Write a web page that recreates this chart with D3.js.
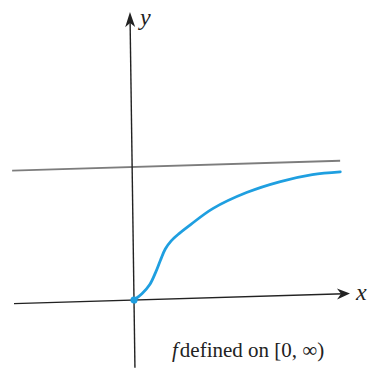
<!DOCTYPE html>
<html lang="en">
<head>
  <meta charset="utf-8">
  <title>f defined on [0, ∞)</title>
  <script src="https://d3js.org/d3.v7.min.js"></script>
  <style>
    html, body { margin: 0; padding: 0; background: #fff; }
    svg { display: block; }
    text { font-family: serif; fill: #222; }
  </style>
</head>
<body>
  <svg id="chart" width="369" height="371"></svg>

  <script>
    // curve values (asymptote at y = 1)
    const curveX = [0, 0.2, 0.4, 0.55, 0.675, 0.8, 0.95, 1.15, 1.45, 2.0, 2.85, 3.7, 4.5, 5.2];
    const curveY = [0, 0.045, 0.113, 0.203, 0.293, 0.376, 0.436, 0.489, 0.556, 0.669, 0.782, 0.857, 0.902, 0.917];
    const asymptoteY = 1;
    const xExtent = [-3, 5.4];
    const yExtent = [-0.51, 2.165];
    const asymptoteExtent = [-3, 5.2];
    const caption = "defined on [0, \u221E)";

    const svg = d3.select("#chart");
    const blue = "#1f9fe0";

    // the scanned figure is slightly skewed, so the plot sits in a tilted group
    const g = svg.append("g")
      .attr("transform", "matrix(1,-0.03,0.014,1,134,300)");

    const x = d3.scaleLinear().domain([0, 1]).range([0, 40]);
    const y = d3.scaleLinear().domain([0, 1]).range([0, -133]);

    // asymptote
    g.append("line")
      .attr("x1", x(asymptoteExtent[0])).attr("x2", x(asymptoteExtent[1]))
      .attr("y1", y(asymptoteY)).attr("y2", y(asymptoteY))
      .attr("stroke", "#7d7d7d")
      .attr("stroke-width", 1.8);

    // x axis
    g.append("line")
      .attr("x1", x(xExtent[0])).attr("x2", x(xExtent[1]) - 6)
      .attr("y1", 0).attr("y2", 0)
      .attr("stroke", "#222")
      .attr("stroke-width", 1.4);

    const xt = x(xExtent[1]);
    g.append("path")
      .attr("d", `M${xt},0 L${xt - 13},-5.5 L${xt - 9},0 L${xt - 13},5.5 Z`)
      .attr("fill", "#222");

    // y axis
    g.append("line")
      .attr("x1", 0).attr("x2", 0)
      .attr("y1", y(yExtent[0])).attr("y2", y(yExtent[1]) + 6)
      .attr("stroke", "#222")
      .attr("stroke-width", 1.4);

    const yt = y(yExtent[1]);
    g.append("path")
      .attr("d", `M0,${yt} L-5,${yt + 15} L0,${yt + 11} L5,${yt + 15} Z`)
      .attr("fill", "#222");

    // the curve
    const pts = curveX.map((d, i) => [d, curveY[i]]);
    const line = d3.line()
      .x(d => x(d[0]))
      .y(d => y(d[1]))
      .curve(d3.curveCatmullRom.alpha(0.5));

    g.append("path")
      .datum(pts)
      .attr("d", line)
      .attr("fill", "none")
      .attr("stroke", blue)
      .attr("stroke-width", 2.8)
      .attr("stroke-linecap", "round");

    g.append("circle")
      .attr("cx", x(0)).attr("cy", y(0))
      .attr("r", 3.6)
      .attr("fill", blue);

    // labels
    svg.append("text")
      .attr("x", 140).attr("y", 25)
      .attr("font-style", "italic")
      .attr("font-size", 24)
      .text("y");

    svg.append("text")
      .attr("x", 356).attr("y", 300)
      .attr("font-style", "italic")
      .attr("font-size", 24)
      .text("x");

    const cap = svg.append("text")
      .attr("x", 172).attr("y", 357)
      .attr("font-size", 21);
    cap.append("tspan").attr("font-style", "italic").text("f");
    cap.append("tspan").attr("dx", 2).text(caption);
  </script>
</body>
</html>
